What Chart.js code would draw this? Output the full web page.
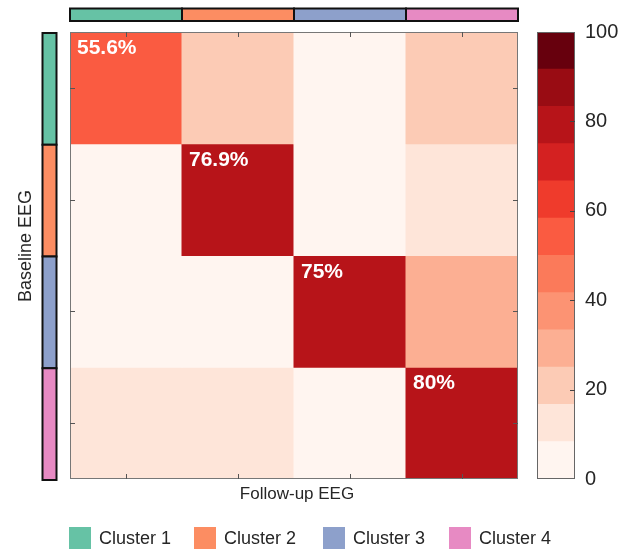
<!DOCTYPE html>
<html>
<head>
<meta charset="utf-8">
<script src="https://cdn.jsdelivr.net/npm/chart.js@4.4.1/dist/chart.umd.min.js"></script>
<style>
  body { margin: 0; background: #fff; font-family: "Liberation Sans", Arial, sans-serif; }
  #wrap { position: relative; width: 635px; height: 552px; overflow: hidden; }
  #heat { position: absolute; left: 0; top: 0; }
  #cbar { position: absolute; left: 537px; top: 0; }
  .item { position: absolute; top: 527px; height: 22px; font-size: 18px; color: #262626; line-height: 22px; }
  .item span { display: inline-block; width: 22px; height: 22px; vertical-align: top; margin-right: 8px; }
</style>
</head>
<body>
<div id="wrap">
  <canvas id="heat" width="635" height="552"></canvas>
  <canvas id="cbar" width="98" height="552"></canvas>
  <div id="legend"></div>
</div>
<script>
// follow-up clusters (columns) and baseline clusters (rows)
const clusters = ['Cluster 1', 'Cluster 2', 'Cluster 3', 'Cluster 4']
const clusterColors = ['#66c2a5', '#fc8d62', '#8da0cb', '#e78ac3']

// transition percentages, one array per baseline cluster
const baseline1 = [55.6, 22.2, 0, 22.2]
const baseline2 = [7.7, 76.9, 0, 15.4]
const baseline3 = [0, 0, 75, 25]
const baseline4 = [10, 10, 0, 80]
const diagLabels = ['55.6%', '76.9%', '75%', '80%']

// colour bar levels
const levelEdges = [0, 8.33, 16.67, 25, 33.33, 41.67, 50, 58.33, 66.67, 75, 83.33, 91.67, 100]
const levelColors = ['#fff5f0', '#fee5d9', '#fccbb5', '#fcaf93', '#fc9373', '#fb7a5a',
                     '#fa5b41', '#ef3b2c', '#d42121', '#b71419', '#990c13', '#67000d']
const colorbarTicks = [0, 20, 40, 60, 80, 100]

const rows = [baseline1, baseline2, baseline3, baseline4]
const FONT = '"Liberation Sans", Arial, sans-serif'

function colorFor(v) {
    let i = 0
    while (i < levelColors.length - 1 && v >= levelEdges[i + 1] - 0.01) i++
    return levelColors[i]
}

const heatExtras = {
    id: 'heatExtras',
    afterDatasetsDraw(chart) {
        const ctx = chart.ctx
        const area = chart.chartArea
        const xs = chart.scales.x
        const ys = chart.scales.y
        ctx.save()

        // diagonal labels
        ctx.fillStyle = '#fff'
        ctx.font = 'bold 21px ' + FONT
        ctx.textBaseline = 'alphabetic'
        rows.forEach((vals, r) => {
            const bar = chart.getDatasetMeta(r).data[r]
            const left = bar.x - bar.width / 2
            const top = ys.getPixelForValue(4 - r)
            ctx.fillText(diagLabels[r], left + 7, top + 22)
        })

        // box
        ctx.strokeStyle = '#777'
        ctx.lineWidth = 1
        ctx.strokeRect(area.left + 0.5, area.top + 0.5, area.width - 1, area.height - 1)

        // inward ticks at cell centres
        ctx.strokeStyle = '#555'
        ctx.beginPath()
        clusters.forEach((c, i) => {
            const px = Math.round(xs.getPixelForValue(i)) + 0.5
            ctx.moveTo(px, area.top); ctx.lineTo(px, area.top + 5)
            ctx.moveTo(px, area.bottom); ctx.lineTo(px, area.bottom - 5)
            const py = Math.round(ys.getPixelForValue(3.5 - i)) + 0.5
            ctx.moveTo(area.left, py); ctx.lineTo(area.left + 5, py)
            ctx.moveTo(area.right, py); ctx.lineTo(area.right - 5, py)
        })
        ctx.stroke()

        // cluster strips, top and left
        ctx.lineWidth = 2
        ctx.strokeStyle = '#111'
        clusters.forEach((c, i) => {
            const x0 = xs.getPixelForValue(i - 0.5)
            const x1 = xs.getPixelForValue(i + 0.5)
            ctx.fillStyle = clusterColors[i]
            ctx.fillRect(x0, 8.5, x1 - x0, 12.5)
            ctx.strokeRect(x0, 8.5, x1 - x0, 12.5)
            const y0 = ys.getPixelForValue(4 - i)
            const y1 = ys.getPixelForValue(3 - i)
            ctx.fillRect(42.5, y0 + 1, 14, y1 - y0)
            ctx.strokeRect(42.5, y0 + 1, 14, y1 - y0)
        })

        // axis titles
        ctx.fillStyle = '#262626'
        ctx.textAlign = 'center'
        ctx.textBaseline = 'middle'
        ctx.font = '17px ' + FONT
        ctx.fillText('Follow-up EEG', (area.left + area.right) / 2 + 3, 494)
        ctx.font = '18px ' + FONT
        ctx.translate(26, 246)
        ctx.rotate(-Math.PI / 2)
        ctx.fillText('Baseline EEG', 0, 0)
        ctx.restore()
    }
}

new Chart(document.getElementById('heat'), {
    type: 'bar',
    data: {
        labels: clusters,
        datasets: rows.map((vals, r) => ({
            label: clusters[r],
            data: vals.map(() => [3 - r, 4 - r]),
            backgroundColor: vals.map(colorFor),
            borderWidth: 0,
            grouped: false,
            barPercentage: 1,
            categoryPercentage: 1,
            inflateAmount: 0.5
        }))
    },
    options: {
        responsive: false,
        animation: false,
        layout: { padding: { left: 70, top: 32, right: 117, bottom: 73 } },
        plugins: { legend: { display: false }, tooltip: { enabled: false } },
        scales: {
            x: { display: false },
            y: { display: false, min: 0, max: 4 }
        }
    },
    plugins: [heatExtras]
})

const cbarExtras = {
    id: 'cbarExtras',
    afterDatasetsDraw(chart) {
        const ctx = chart.ctx
        const area = chart.chartArea
        const ys = chart.scales.y
        ctx.save()
        ctx.strokeStyle = '#666'
        ctx.lineWidth = 1
        ctx.strokeRect(area.left + 0.5, area.top + 0.5, area.width - 1, area.height - 1)
        ctx.strokeStyle = '#444'
        ctx.beginPath()
        colorbarTicks.slice(1, -1).forEach((t) => {
            const py = Math.round(ys.getPixelForValue(t)) + 0.5
            ctx.moveTo(area.right, py); ctx.lineTo(area.right - 5, py)
        })
        ctx.stroke()
        ctx.restore()
    }
}

new Chart(document.getElementById('cbar'), {
    type: 'bar',
    data: {
        labels: [''],
        datasets: levelColors.map((c, i) => ({
            data: [[levelEdges[i], levelEdges[i + 1]]],
            backgroundColor: c,
            borderWidth: 0,
            grouped: false,
            barPercentage: 1,
            categoryPercentage: 1,
            inflateAmount: 0.5
        }))
    },
    options: {
        responsive: false,
        animation: false,
        layout: { padding: { left: 0, top: 32, right: 0, bottom: 73 } },
        plugins: { legend: { display: false }, tooltip: { enabled: false } },
        scales: {
            x: { display: false },
            y: {
                position: 'right',
                min: 0, max: 100,
                afterBuildTicks: (scale) => { scale.ticks = colorbarTicks.map((v) => ({ value: v })) },
                ticks: { color: '#262626', font: { size: 20, family: FONT }, padding: 10 },
                grid: { drawOnChartArea: false, drawTicks: false },
                border: { display: false },
                afterFit: (scale) => { scale.width = 60; scale.paddingTop = 0; scale.paddingBottom = 0 }
            }
        }
    },
    plugins: [cbarExtras]
})

// legend
const legendX = [69, 194, 323, 449]
document.getElementById('legend').innerHTML = clusters.map((c, i) =>
    `<div class="item" style="left:${legendX[i]}px"><span style="background:${clusterColors[i]}"></span>${c}</div>`
).join('')
</script>
</body>
</html>
